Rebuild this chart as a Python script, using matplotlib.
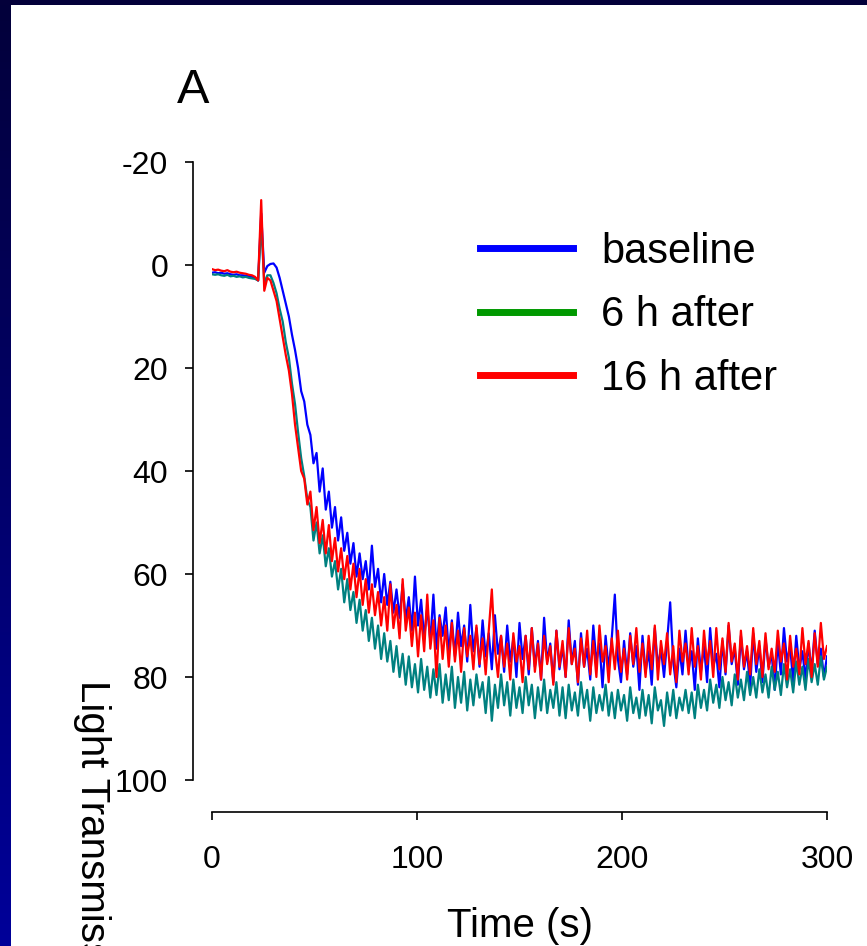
import numpy as np
import matplotlib
matplotlib.use("Agg")
import matplotlib.pyplot as plt
from matplotlib.colors import LinearSegmentedColormap
from matplotlib.lines import Line2D

plt.rcParams['font.family'] = ['Liberation Sans', 'DejaVu Sans']
plt.rcParams['axes.unicode_minus'] = False

# ---- data (light transmission, %; sampled every 1.5 s from 0 to 300 s) ----
baseline = [
    1.5, 1.4, 1.6, 1.5, 1.7, 1.6, 1.8, 1.9, 1.8, 2.0, 2.0, 2.1, 2.2, 2.3, 2.5, 3.0,
    -10.0, 1.5, 0.2, -0.2, -0.3, 0.5, 2.5, 5.0, 7.5, 10.0, 13.5, 16.5, 20.0, 24.5,
    26.5, 31.0, 33.0, 38.5, 36.5, 44.0, 39.5, 47.5, 44.0, 51.0, 47.0, 53.5, 49.0, 55.5,
    52.0, 58.0, 54.0, 60.5, 56.0, 61.0, 57.5, 63.0, 54.5, 62.5, 59.0, 65.5, 60.0, 66.0,
    61.5, 67.5, 63.0, 68.5, 62.0, 69.0, 64.5, 71.0, 60.5, 70.0, 65.0, 72.5, 66.5, 73.0,
    64.0, 74.5, 68.0, 72.0, 66.5, 75.5, 69.0, 76.0, 67.5, 74.0, 70.0, 77.0, 66.0, 75.0,
    70.5, 78.0, 69.0, 76.0, 71.5, 78.5, 68.0, 75.5, 72.0, 79.0, 70.0, 77.0, 72.5, 80.0,
    69.5, 76.5, 72.0, 79.5, 70.5, 78.0, 73.0, 80.5, 68.5, 77.0, 73.5, 81.0, 71.0, 78.5,
    74.0, 80.0, 69.0, 77.5, 73.0, 81.5, 71.5, 78.0, 74.5, 80.5, 70.0, 77.0, 73.5, 82.0,
    72.0, 78.5, 72.5, 64.0, 76.5, 81.0, 73.0, 79.5, 71.5, 78.0, 74.0, 82.5, 72.0, 79.0,
    75.0, 81.5, 70.5, 78.0, 74.5, 80.0, 73.0, 65.5, 77.0, 82.0, 74.5, 79.5, 71.0, 78.5,
    75.0, 82.5, 72.5, 79.0, 74.0, 81.0, 70.5, 78.0, 75.5, 82.0, 73.0, 79.5, 70.0, 77.5,
    74.5, 81.5, 72.0, 78.5, 75.0, 82.0, 71.5, 79.0, 74.0, 81.0, 72.5, 78.0, 75.5, 82.5,
    73.0, 79.5, 70.5, 77.0, 74.0, 81.0, 72.0, 78.5, 75.0, 80.5, 73.5, 79.0, 71.0, 77.5,
    74.5, 80.0, 76.0,
]

after_6h = [
    1.8, 1.9, 1.8, 2.0, 2.1, 1.9, 2.2, 2.1, 2.3, 2.2, 2.4, 2.3, 2.5, 2.6, 2.7, 3.0,
    -8.0, 3.5, 2.0, 2.0, 3.5, 5.5, 8.5, 11.0, 15.0, 18.0, 23.0, 27.0, 32.5, 37.5,
    41.0, 45.5, 47.0, 53.5, 50.0, 56.0, 52.5, 58.5, 55.0, 60.5, 57.5, 63.0, 59.0, 65.5,
    61.0, 67.0, 63.5, 69.5, 65.0, 71.0, 67.0, 73.0, 68.5, 74.5, 70.0, 76.5, 71.5, 77.0,
    73.0, 79.0, 74.0, 80.0, 75.5, 81.5, 76.0, 82.0, 77.5, 83.0, 76.5, 82.5, 78.0, 84.0,
    78.5, 83.5, 77.5, 85.0, 79.5, 84.5, 78.0, 86.0, 80.0, 85.0, 79.0, 86.5, 80.5, 85.5,
    79.5, 84.0, 81.0, 87.0, 80.0, 88.5, 81.5, 86.0, 79.5, 85.5, 81.0, 87.5, 80.5, 86.0,
    82.0, 87.0, 80.0, 85.5, 81.5, 88.0, 82.0, 86.5, 80.5, 87.0, 82.5, 86.0, 81.0, 87.5,
    82.0, 88.0, 81.5, 86.5, 83.0, 87.5, 81.0, 86.0, 82.5, 88.5, 82.0, 87.0, 83.5, 86.5,
    81.5, 87.5, 83.0, 88.0, 82.5, 86.5, 83.5, 88.5, 82.0, 87.0, 84.0, 88.0, 82.5, 87.5,
    83.5, 89.0, 82.0, 86.5, 84.5, 89.5, 83.0, 87.5, 82.5, 88.0, 84.0, 86.5, 82.5, 87.0,
    83.0, 88.0, 81.5, 86.0, 82.5, 86.5, 80.5, 85.0, 81.5, 86.0, 80.0, 84.5, 81.0, 85.5,
    79.5, 84.0, 80.5, 84.5, 79.0, 83.5, 80.0, 84.0, 78.5, 83.0, 79.5, 84.0, 78.0, 82.5,
    79.0, 83.5, 77.5, 82.0, 78.5, 83.0, 77.0, 81.5, 78.0, 82.5, 76.5, 81.0, 77.5, 81.5,
    76.0, 80.5, 78.0,
]

after_16h = [
    0.8, 1.0, 0.9, 1.1, 1.2, 1.0, 1.3, 1.4, 1.3, 1.5, 1.6, 1.7, 1.9, 2.0, 2.3, 3.0,
    -12.6, 5.0, 2.5, 3.0, 5.0, 7.0, 10.5, 14.0, 17.5, 20.5, 25.0, 31.0, 35.5, 40.0,
    41.5, 46.5, 44.0, 51.5, 47.0, 54.0, 49.5, 56.0, 50.5, 57.5, 53.0, 59.5, 55.0, 61.0,
    56.5, 63.0, 58.0, 64.5, 59.0, 66.0, 61.0, 67.5, 62.0, 68.0, 63.5, 70.0, 64.5, 71.0,
    62.0, 70.5, 66.0, 72.5, 61.0, 71.0, 66.5, 74.0, 67.5, 76.0, 68.0, 75.0, 64.0, 74.5,
    69.0, 80.0, 68.5, 76.5, 70.0, 78.0, 69.5, 77.0, 71.0, 79.0, 70.5, 76.0, 72.0, 78.5,
    70.0, 77.5, 72.5, 79.5, 71.0, 63.0, 74.5, 80.0, 72.0, 78.0, 73.5, 80.5, 71.5, 77.0,
    74.0, 81.0, 72.0, 78.5, 70.5, 79.0, 73.5, 80.5, 72.0, 77.5, 74.0, 81.5, 71.0, 78.0,
    73.0, 80.0, 70.5, 77.5, 74.5, 81.0, 72.5, 78.0, 71.0, 79.5, 73.0, 80.0, 70.0, 77.0,
    74.0, 81.0, 72.5, 78.5, 71.0, 79.0, 74.5, 80.5, 72.0, 77.5, 70.5, 79.0, 73.5, 80.0,
    72.0, 78.5, 70.0, 80.5, 73.0, 77.5, 71.5, 79.5, 74.0, 81.0, 71.0, 77.0, 73.5, 79.5,
    70.5, 78.0, 74.0, 80.5, 71.0, 77.5, 73.0, 80.0, 70.5, 78.5, 72.5, 79.0, 69.5, 77.0,
    73.5, 80.5, 71.0, 78.0, 74.0, 79.5, 70.5, 77.5, 73.0, 80.0, 71.5, 78.5, 74.5, 79.0,
    71.0, 77.0, 73.5, 80.5, 72.0, 78.0, 74.5, 79.5, 70.5, 77.5, 73.0, 80.0, 71.5, 78.0,
    69.5, 76.5, 74.0,
]

series_labels = ["baseline", "6 h after", "16 h after"]
legend_colors = ["#0000FF", "#009900", "#FF0000"]
line_colors = ["#0000FF", "#008080", "#FF0000"]
x_ticks = [0, 100, 200, 300]
y_ticks = [-20, 0, 20, 40, 60, 80, 100]

W, H = 867, 946
fig = plt.figure(figsize=(W / 100, H / 100), dpi=100)
fig.patch.set_facecolor("white")

# dark frame strips (left gradient, top)
lax = fig.add_axes([0, 0, 11 / W, 1])
grad = np.linspace(0, 1, 256).reshape(-1, 1)
cmap = LinearSegmentedColormap.from_list("frame", ["#03003a", "#000099"])
lax.imshow(grad, aspect="auto", cmap=cmap, extent=[0, 1, 0, 1], origin="upper")
lax.set_axis_off()
tax = fig.add_axes([0, 1 - 5 / H, 1, 5 / H])
tax.set_facecolor("#03003a")
tax.set_xticks([]); tax.set_yticks([])
for s in tax.spines.values():
    s.set_visible(False)

ax = fig.add_axes([212 / W, 1 - 780 / H, (827 - 212) / W, (780 - 162) / H])
for vals, c in zip([baseline, after_6h, after_16h], line_colors):
    t = np.linspace(0, 300, len(vals))
    ax.plot(t, vals, color=c, lw=1.6)

ax.set_xlim(0, 300)
ax.set_ylim(100, -20)
ax.set_xticks(x_ticks)
ax.set_yticks(y_ticks)
ax.spines["top"].set_visible(False)
ax.spines["right"].set_visible(False)
ax.spines["left"].set_position(("outward", 19 * 72 / 100))
ax.spines["bottom"].set_position(("outward", 32 * 72 / 100))
ax.spines["left"].set_bounds(-20, 100)
ax.spines["bottom"].set_bounds(0, 300)
for s in ["left", "bottom"]:
    ax.spines[s].set_linewidth(1.2)
ax.tick_params(axis="y", direction="out", length=6, width=1.2, pad=12, labelsize=23)
ax.tick_params(axis="x", direction="out", length=6, width=1.2, pad=18, labelsize=23)

# legend
handles = [Line2D([], [], color=c, lw=5) for c in legend_colors]
ax.legend(handles, series_labels, loc="upper left",
          bbox_to_anchor=(480 / W, 1 - 232 / H), bbox_transform=fig.transFigure,
          frameon=False, fontsize=30, handlelength=2.23, handletextpad=0.68,
          labelspacing=0.56, borderpad=0, borderaxespad=0)

fig.text(177 / W, 1 - 103 / H, "A", fontsize=35, ha="left", va="baseline")
fig.text(520 / W, 1 - 937 / H, "Time (s)", fontsize=29, ha="center", va="baseline")
fig.text(92 / W, 1 - 680 / H, "Light Transmission (%)", fontsize=29,
         rotation=270, ha="center", va="top")

fig.savefig("out.png", dpi=100, facecolor="white")
